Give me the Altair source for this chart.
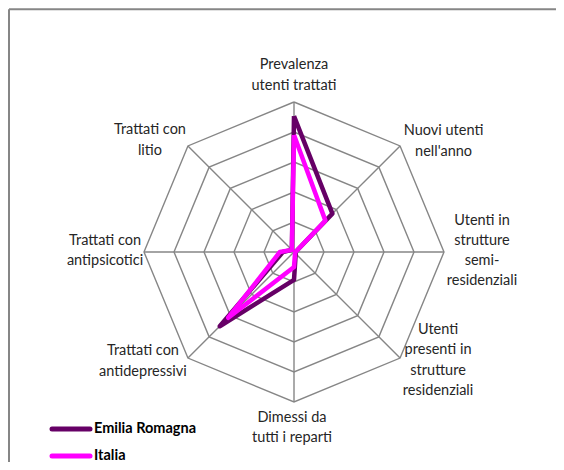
import altair as alt
import pandas as pd
import numpy as np

# ---------------- data ----------------
categories = [
    "Prevalenza\nutenti trattati",
    "Nuovi utenti\nnell'anno",
    "Utenti in\nstrutture\nsemi-\nresidenziali",
    "Utenti\npresenti in\nstrutture\nresidenziali",
    "Dimessi da\ntutti i reparti",
    "Trattati con\nantidepressivi",
    "Trattati con\nantipsicotici",
    "Trattati con\nlitio",
]
series_names = ["Emilia Romagna", "Italia"]
emilia_romagna = [4.53, 1.81, 0.05, 0.08, 0.93, 3.50, 0.37, 0.10]
italia = [3.90, 1.48, 0.05, 0.05, 0.50, 3.10, 0.47, 0.10]
rings = [1, 2, 3, 4, 5]
title_text = "Utenti"

# ---------------- layout / style ----------------
W, H = 548, 454
UNIT = 30.0            # pixels per ring
CX, CY = 286.0, 244.0  # centre of radar in chart pixels
LH = 20.2              # label line height
label_dx = [0, 43.5, 38, 38, -2, -45, -39, -38]        # px offsets (block centre) from outer vertex
label_dy = [-26.5, -4.5, -1, 2.5, 26, 3.5, -1, -5.5]
colors = ["#660066", "#FF00FF"]
grid_color = "#868686"
FONT = "Lato"

n = len(categories)
angles = np.arange(n) * 2 * np.pi / n
rmax = max(rings)

xscale = alt.Scale(domain=[-CX / UNIT, (W - CX) / UNIT], nice=False, zero=False)
yscale = alt.Scale(domain=[-(H - CY) / UNIT, CY / UNIT], nice=False, zero=False)
X = lambda f: alt.X(f, type="quantitative", scale=xscale, axis=None)
Y = lambda f: alt.Y(f, type="quantitative", scale=yscale, axis=None)

# grid rings
ring_rows = []
for r in rings:
    for k in range(n + 1):
        a = angles[k % n]
        ring_rows.append({"ring": r, "k": k, "x": r * np.sin(a), "y": r * np.cos(a)})
ring_df = pd.DataFrame(ring_rows)

spoke_df = pd.DataFrame({
    "x": np.zeros(n), "y": np.zeros(n),
    "x2": rmax * np.sin(angles), "y2": rmax * np.cos(angles),
})

def series_df(name, vals):
    rows = []
    for k in range(n + 1):
        a = angles[k % n]
        v = vals[k % n]
        rows.append({"series": name, "k": k, "x": v * np.sin(a), "y": v * np.cos(a)})
    return pd.DataFrame(rows)

nlines = np.array([c.count("\n") + 1 for c in categories])
label_df = pd.DataFrame({
    "label": categories,
    "x": rmax * np.sin(angles) + np.array(label_dx) / UNIT,
    "y": rmax * np.cos(angles) - np.array(label_dy) / UNIT + (nlines - 1) / 2 * LH / UNIT,
})

grid = alt.Chart(ring_df).mark_line(color=grid_color, strokeWidth=1.4).encode(
    x=X("x"), y=Y("y"), detail="ring:N", order="k:Q")
spokes = alt.Chart(spoke_df).mark_rule(color=grid_color, strokeWidth=1.4).encode(
    x=X("x"), y=Y("y"), x2="x2", y2="y2")

color_scale = alt.Scale(domain=series_names, range=colors)
lines = []
for name, vals in zip(series_names, [emilia_romagna, italia]):
    lines.append(
        alt.Chart(series_df(name, vals)).mark_line(strokeWidth=4.5, strokeJoin="round").encode(
            x=X("x"), y=Y("y"), order="k:Q",
            color=alt.Color("series:N", scale=color_scale, legend=None))
    )

labels = alt.Chart(label_df).mark_text(
    font=FONT, fontSize=14.5, color="#262626", align="center", baseline="middle",
    lineBreak="\n", lineHeight=LH).encode(x=X("x"), y=Y("y"), text="label:N")

# legend (custom)
legend_layers = []
for i, (name, col) in enumerate(zip(series_names, colors)):
    ly = 421 + 27 * i
    legend_layers.append(
        alt.Chart(pd.DataFrame({"series": [name]})).mark_rule(
            color=col, strokeWidth=5, strokeCap="round").encode(
            x=alt.value(44), x2=alt.value(82), y=alt.value(ly)))
    legend_layers.append(
        alt.Chart(pd.DataFrame({"series": [name]})).mark_text(
            font=FONT, fontSize=14.5, fontWeight="bold", color="#000000",
            align="left", baseline="middle").encode(
            x=alt.value(86), y=alt.value(ly), text="series:N"))

# border
border_left = alt.Chart(pd.DataFrame({"a": [0]})).mark_rule(color=grid_color, strokeWidth=2).encode(
    x=alt.value(1), y=alt.value(1.3), y2=alt.value(H + 5))
border_top = alt.Chart(pd.DataFrame({"a": [0]})).mark_rule(color=grid_color, strokeWidth=2).encode(
    x=alt.value(1), x2=alt.value(W + 5), y=alt.value(1.3))
title = alt.Chart(pd.DataFrame({"t": [title_text]})).mark_text(
    font="Liberation Serif", fontSize=17, fontWeight="bold", color="#000000",
    align="center", baseline="alphabetic").encode(
    x=alt.value(234), y=alt.value(-4), text="t:N")

chart = alt.layer(
    border_left, border_top, grid, spokes, *lines, labels, *legend_layers, title
).properties(
    width=W, height=H, padding=0,
    autosize=alt.AutoSizeParams(type="none"),
).configure_view(stroke=None, strokeWidth=0, fill=None)

chart.save("out.html", embed_options={"renderer": "svg", "actions": False})
